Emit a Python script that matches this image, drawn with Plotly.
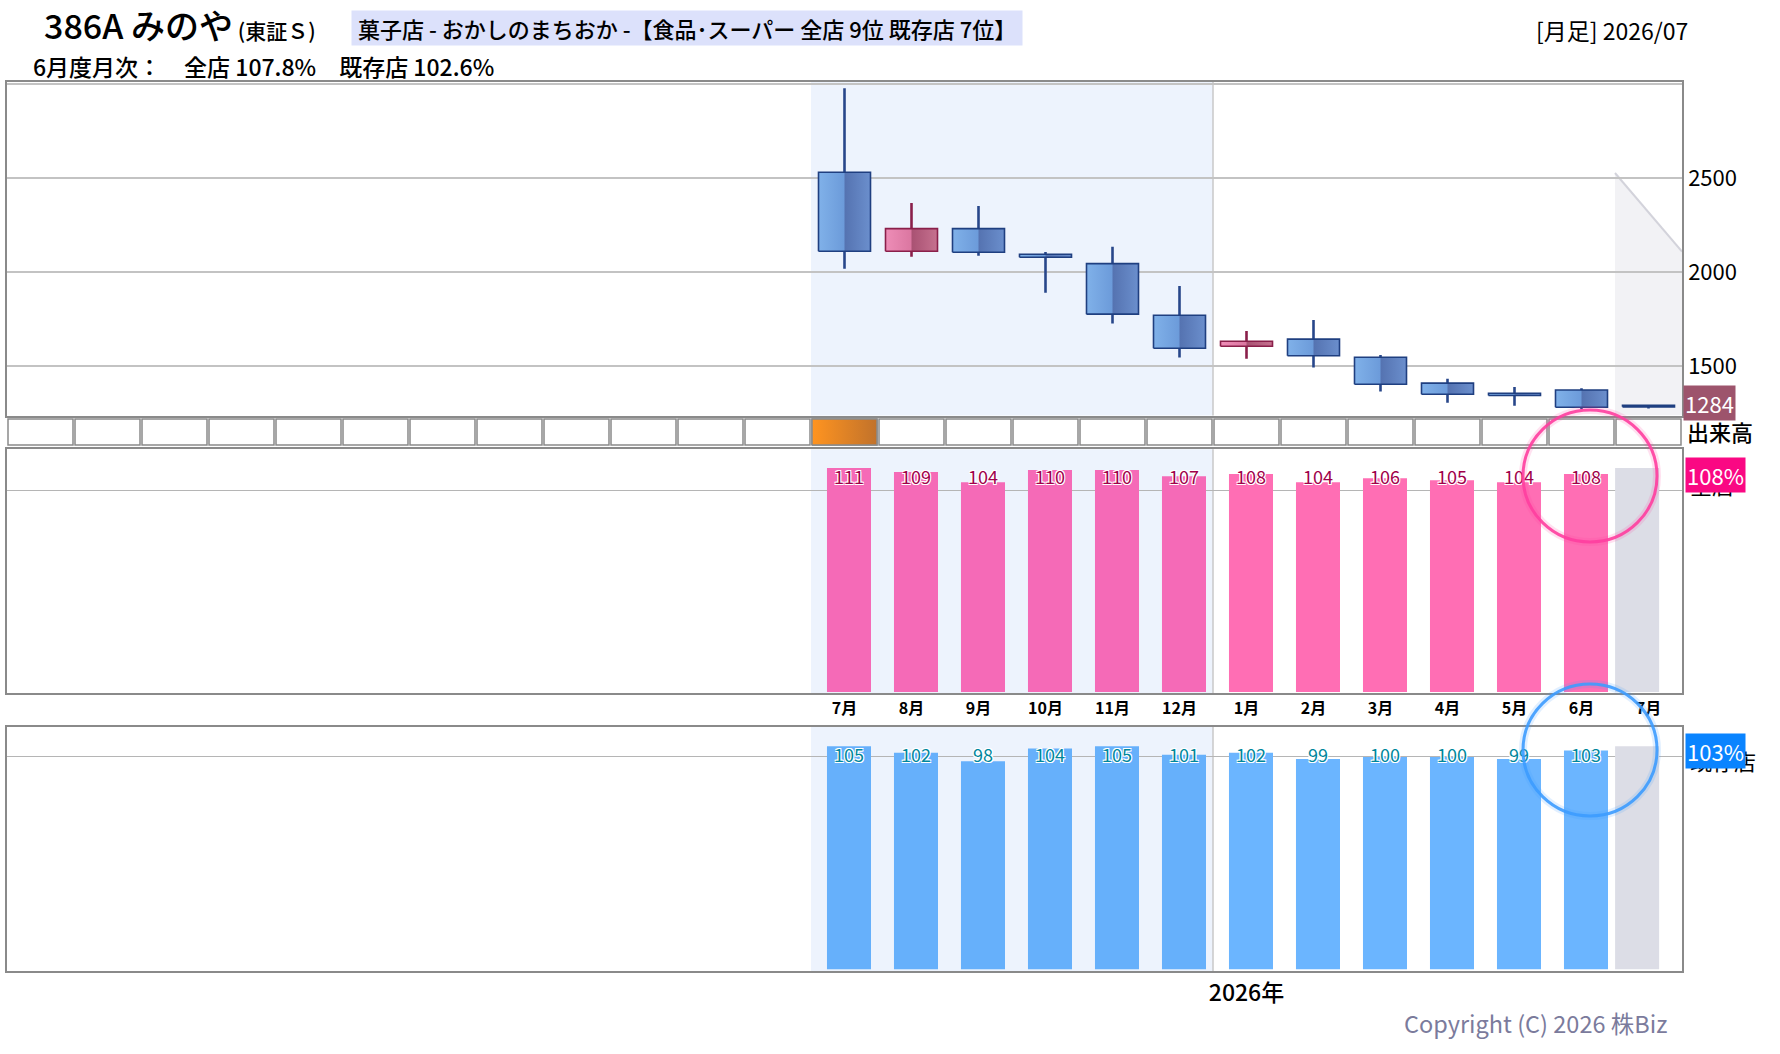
import plotly.graph_objects as go

W, H = 1780, 1054
FONT = "Noto Sans CJK JP"

# ---------------- data ----------------
months = ["7月", "8月", "9月", "10月", "11月", "12月", "1月", "2月", "3月", "4月", "5月", "6月", "7月"]
years = [2025] * 6 + [2026] * 7
opens = [2532, 2112, 2232, 2096, 2046, 1771, 1606, 1644, 1548, 1410, 1356, 1374, 1292]
highs = [2979, 2369, 2353, 2108, 2135, 1927, 1688, 1746, 1560, 1433, 1390, 1383, 1293]
lows = [2019, 2083, 2088, 1891, 1727, 1546, 1540, 1493, 1365, 1306, 1290, 1271, 1275]
closes = [2112, 2232, 2106, 2080, 1777, 1596, 1633, 1556, 1404, 1351, 1344, 1282, 1284]
all_store = [111, 109, 104, 110, 110, 107, 108, 104, 106, 105, 104, 108]
existing = [105, 102, 98, 104, 105, 101, 102, 99, 100, 100, 99, 103]
all_latest = 107.8
exist_latest = 102.6
last_price = 1284
price_ticks = [1500, 2000, 2500, 3000]
price_tick_text = ["1500", "2000", "2500", ""]
n_empty = 12          # empty month slots left of the data
year_label = "2026年"

# ---------------- helpers ----------------
def px(x):
    return x / W


def py(y):
    return 1 - y / H


X_DOM = [px(7), px(1682)]
X_RANGE = [-n_empty - 0.5, len(months) - 0.5]
PRICE_RANGE = [1238, 3012]
ALL_RANGE = [-0.64, 120.3]
EX_RANGE = [-0.8, 114.1]

idx = list(range(len(months)))
BAR_OFF = 0.067
BAR_W = 0.657
BODY_HALF = 0.388

fig = go.Figure()

# ---------------- candles ----------------
blue_scale = [[0, "#80b1e9"], [0.49, "#6c9bda"], [0.51, "#5573b1"], [1, "#6b8fcd"]]
pink_scale = [[0, "#ee8db7"], [0.49, "#db77a1"], [0.51, "#a95273"], [1, "#c6718f"]]
blue_edge, pink_edge = "#1f3f80", "#8a1f4a"

for up in (False, True):
    wx, wy = [], []
    for i in idx:
        if (closes[i] > opens[i]) == up:
            wx += [i, i, None]
            wy += [lows[i], highs[i], None]
    fig.add_trace(go.Scatter(x=wx, y=wy, mode="lines",
                             line=dict(color=pink_edge if up else "#27468a", width=2.6),
                             hoverinfo="skip", showlegend=False, xaxis="x", yaxis="y"))

for i in idx:
    up = closes[i] > opens[i]
    top, bot = max(opens[i], closes[i]), min(opens[i], closes[i])
    x0, x1 = i - BODY_HALF, i + BODY_HALF
    fig.add_trace(go.Scatter(
        x=[x0, x1, x1, x0, x0], y=[bot, bot, top, top, bot],
        mode="lines", fill="toself",
        fillgradient=dict(type="horizontal", colorscale=pink_scale if up else blue_scale),
        line=dict(color=pink_edge if up else blue_edge, width=1.6),
        hoverinfo="skip", showlegend=False, xaxis="x", yaxis="y"))

# ---------------- volume strip (slots) ----------------
slots = list(range(-n_empty, len(months)))
fig.add_trace(go.Bar(x=slots, y=[1] * len(slots), base=0, width=0.97,
                     marker=dict(color="white", line=dict(color="#8a8a8a", width=1.5)),
                     hoverinfo="skip", showlegend=False, xaxis="x2", yaxis="y2"))
fig.add_trace(go.Scatter(x=[-0.485, 0.485, 0.485, -0.485, -0.485], y=[0, 0, 1, 1, 0],
                         mode="lines", fill="toself",
                         fillgradient=dict(type="horizontal",
                                           colorscale=[[0, "#ff9420"], [1, "#c1722b"]]),
                         line=dict(color="#8a8a8a", width=1.5),
                         hoverinfo="skip", showlegend=False, xaxis="x2", yaxis="y2"))

# ---------------- monthly bars ----------------
def label_y(rng, pixels_from_top, panel_px):
    ppu = panel_px / (rng[1] - rng[0])
    return rng[1] - pixels_from_top / ppu


shadow = "1px 1px 0 #fff, -1px -1px 0 #fff, 1px -1px 0 #fff, -1px 1px 0 #fff, 0 1px 0 #fff, 0 -1px 0 #fff"

for vals, rng, ax, ay, cols, tcol, ppx in [
    (all_store, ALL_RANGE, "x3", "y3", ("#f56ab7", "#ff6eb4"), "#a0004a", 244),
    (existing, EX_RANGE, "x4", "y4", ("#66b0fb", "#6bb5ff"), "#00879c", 244),
]:
    bx = [i + BAR_OFF for i in range(len(vals))]
    colors = [cols[0] if years[i] == 2025 else cols[1] for i in range(len(vals))]
    fig.add_trace(go.Bar(x=bx, y=vals, width=BAR_W, marker=dict(color=colors, line=dict(width=0)),
                         hoverinfo="skip", showlegend=False, xaxis=ax, yaxis=ay))
    # placeholder for the current (unreported) month
    fig.add_trace(go.Bar(x=[len(months) - 1 - 0.17], y=[max(vals)], width=BAR_W,
                         marker=dict(color="#dcdde6", line=dict(width=0)),
                         hoverinfo="skip", showlegend=False, xaxis=ax, yaxis=ay))
    ly = label_y(rng, 30, ppx)
    fig.add_trace(go.Scatter(x=bx, y=[ly] * len(vals), mode="text",
                             text=[str(v) for v in vals],
                             textfont=dict(family=FONT, size=18, color=tcol, shadow=shadow),
                             hoverinfo="skip", showlegend=False, xaxis=ax, yaxis=ay))

# ---------------- shapes ----------------
shapes = []
for xr, yr in [("x", "y"), ("x3", "y3"), ("x4", "y4")]:
    shapes.append(dict(type="rect", xref=xr, yref=yr + " domain", x0=-0.5, x1=5.5, y0=0, y1=1,
                       fillcolor="#edf3fd", line=dict(width=0), layer="below"))
    shapes.append(dict(type="line", xref=xr, yref=yr + " domain", x0=5.5, x1=5.5, y0=0, y1=1,
                       line=dict(color="#c8c8c8", width=1.5), layer="below"))
# future "dog-ear" region in price panel
shapes.append(dict(type="path", xref="x", yref="y",
                   path=f"M 11.5,2528 L 12.5,2110 L 12.5,{PRICE_RANGE[0]} L 11.5,{PRICE_RANGE[0]} Z",
                   fillcolor="#f2f2f5", line=dict(width=0), layer="below"))
shapes.append(dict(type="line", xref="x", yref="y", x0=11.5, y0=2528, x1=12.5, y1=2110,
                   line=dict(color="#d3d3db", width=2), layer="below"))
# highlight circles around the latest month
cx = len(months) - 2 + 0.127
for yc, col in [(476, "#ff3fa0"), (750, "#3d9cff")]:
    for wdt, op in [(8, 0.15), (3, 0.9)]:
        shapes.append(dict(type="circle", xref="x3", yref="paper",
                           x0=cx - 1.0, x1=cx + 1.0, y0=py(yc + 66), y1=py(yc - 66),
                           line=dict(color=col, width=wdt), opacity=op, layer="above"))

# ---------------- annotations ----------------
ann = []


def text(x, y, s, size=22, color="black", xanchor="left", yanchor="middle", weight=500, **kw):
    d = dict(x=px(x), y=py(y), xref="paper", yref="paper", text=s, showarrow=False,
             xanchor=xanchor, yanchor=yanchor,
             font=dict(family=FONT, size=size, color=color, weight=weight))
    d.update(kw)
    ann.append(d)


text(42, 25, "386A みのや<span style='font-size:21px'> (東証Ｓ)</span>", size=34)
text(351, 28, " 菓子店 - おかしのまちおか -【食品･スーパー 全店 9位 既存店 7位】 ", size=22,
     bgcolor="#dce1fb", borderpad=1)
text(31, 66, "6月度月次：　全店 107.8%　既存店 102.6%", size=23)
text(1690, 30, "[月足] 2026/07", size=23, xanchor="right", weight=400)
text(1685, 431, "出来高", size=22)
text(1669, 1023, "Copyright (C) 2026 株Biz", size=23.5, color="#7b7b9c", xanchor="right",
     weight=400)

# price label
ann.append(dict(x=px(1683), xref="paper", y=last_price, yref="y", text=str(last_price),
                showarrow=False, xanchor="left", yanchor="middle", yshift=4,
                bgcolor="#9d546c", borderpad=1, font=dict(family=FONT, size=22, color="white")))
# store labels (partially hidden behind the value boxes)
for name, val, yr, bg in [("全店", all_latest, "y3", "#fa0883"), ("既存店", exist_latest, "y4", "#0a84ff")]:
    ann.append(dict(x=px(1688), xref="paper", y=val, yref=yr, text=name, showarrow=False,
                    xanchor="left", yanchor="middle", yshift=-9,
                    font=dict(family=FONT, size=22, color="black")))
    ann.append(dict(x=px(1685), xref="paper", y=val, yref=yr, text=f"{val:.0f}%", showarrow=False,
                    xanchor="left", yanchor="middle", bgcolor=bg, borderpad=1,
                    font=dict(family=FONT, size=22, color="white")))

# ---------------- layout ----------------
frame = dict(showline=True, mirror=True, linecolor="#8a8a8a", linewidth=1.5)
xbase = dict(domain=X_DOM, range=X_RANGE, showgrid=False, zeroline=False, ticks="",
             showticklabels=False, fixedrange=True)

fig.update_layout(
    width=W, height=H, autosize=False,
    margin=dict(l=0, r=0, t=0, b=0),
    paper_bgcolor="white", plot_bgcolor="white",
    barmode="overlay", showlegend=False,
    font=dict(family=FONT, color="black"),
    shapes=shapes, annotations=ann,
    xaxis=dict(**xbase, anchor="y", **frame),
    yaxis=dict(domain=[py(415.5), py(82)], range=PRICE_RANGE, side="right", anchor="x",
               tickvals=price_ticks, ticktext=price_tick_text, ticks="",
               tickfont=dict(family=FONT, size=22, color="black"), ticklabelstandoff=0,
               showgrid=True, gridcolor="#c3c3c3", gridwidth=1.5, zeroline=False, **frame),
    xaxis2=dict(**xbase, anchor="y2", matches="x"),
    yaxis2=dict(domain=[py(446), py(418)], range=[-0.04, 1.04], anchor="x2", showgrid=False,
                zeroline=False, showticklabels=False, ticks=""),
    xaxis3=dict(**{**xbase, "showticklabels": True}, anchor="y3", matches="x",
                tickvals=idx, ticktext=months, ticklabelstandoff=0,
                tickfont=dict(family=FONT, size=16, color="black", weight="bold"), **frame),
    yaxis3=dict(domain=[py(693.3), py(449.3)], range=ALL_RANGE, anchor="x3",
                tickvals=[100], showticklabels=False, ticks="",
                showgrid=True, gridcolor="#b5b5b5", gridwidth=1.2, zeroline=False, **frame),
    xaxis4=dict(**{**xbase, "showticklabels": True}, anchor="y4", matches="x",
                tickvals=[6], ticktext=[year_label], ticklabelstandoff=1,
                tickfont=dict(family=FONT, size=23, color="black", weight=500), **frame),
    yaxis4=dict(domain=[py(971), py(727)], range=EX_RANGE, anchor="x4",
                tickvals=[100], showticklabels=False, ticks="",
                showgrid=True, gridcolor="#b5b5b5", gridwidth=1.2, zeroline=False, **frame),
)

fig.write_html("out.html")
